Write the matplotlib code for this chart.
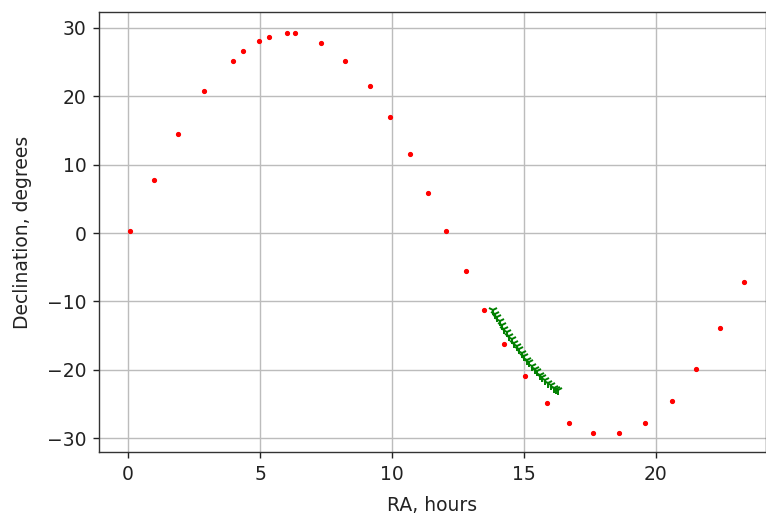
import matplotlib
matplotlib.use("Agg")
import matplotlib.pyplot as plt

# Moon positions (red) - RA in hours, declination in degrees
ra_moon = [0.06, 0.98, 1.89, 2.89, 3.97, 4.34, 4.95, 5.33, 6.02, 6.34,
           7.32, 8.23, 9.16, 9.92, 10.67, 11.37, 12.06, 12.81, 13.50, 14.25,
           15.04, 15.87, 16.70, 17.63, 18.60, 19.60, 20.59, 21.50, 22.44, 23.34]
dec_moon = [0.3, 7.7, 14.5, 20.7, 25.1, 26.6, 28.0, 28.7, 29.2, 29.2,
            27.8, 25.1, 21.5, 16.9, 11.5, 5.9, 0.3, -5.6, -11.3, -16.2,
            -20.9, -24.8, -27.7, -29.2, -29.2, -27.7, -24.5, -19.8, -13.9, -7.1]

# Sun track (green)
ra_sun = [13.83, 13.91, 13.99, 14.08, 14.17, 14.26, 14.35, 14.44, 14.53, 14.62,
          14.72, 14.81, 14.91, 15.00, 15.10, 15.20, 15.30, 15.40, 15.50, 15.60,
          15.70, 15.80, 15.91, 16.01, 16.12, 16.22, 16.29]
dec_sun = [-11.3, -11.8, -12.3, -12.9, -13.4, -14.0, -14.5, -15.0, -15.5, -16.0,
           -16.5, -17.0, -17.5, -18.0, -18.5, -18.9, -19.4, -19.8, -20.2, -20.7,
           -21.1, -21.5, -21.9, -22.2, -22.6, -22.8, -22.9]

fs = 13.5

fig = plt.figure(figsize=(7.66, 5.16), dpi=100)
ax = fig.add_axes([99 / 766, 64 / 516, 667 / 766, 440 / 516])

ax.plot(ra_sun, dec_sun, "g1", markersize=7, markeredgewidth=1.4)
ax.plot(ra_moon, dec_moon, "r.", markersize=5.5)

ax.set_xlim(-1.1, 24.17)
ax.set_ylim(-32.0, 32.3)
ax.set_xticks([0, 5, 10, 15, 20])
ax.set_yticks([-30, -20, -10, 0, 10, 20, 30])
ax.tick_params(labelsize=fs, length=4.5, width=1.0, pad=4.5, colors="#222222")
ax.set_xlabel("RA, hours", fontsize=fs, labelpad=9, color="#222222")
ax.set_ylabel("Declination, degrees", fontsize=fs, labelpad=11, color="#222222")
ax.grid(True, color="#bcbcbc", linewidth=1.0)
ax.set_axisbelow(True)
for s in ax.spines.values():
    s.set_color("#333333")
    s.set_linewidth(1.0)

plt.savefig("out.png", dpi=100)
